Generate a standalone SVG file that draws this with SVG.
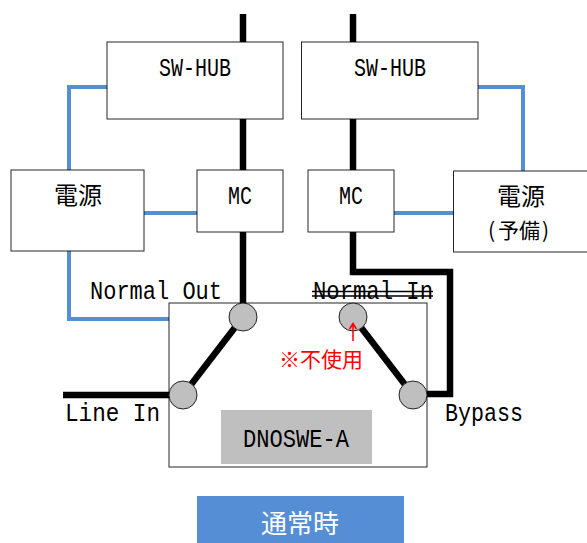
<svg xmlns="http://www.w3.org/2000/svg" width="587" height="543" viewBox="0 0 587 543">
<style>
.box{fill:#fff;stroke:#000;stroke-width:1;stroke-opacity:.85}
.bk{fill:none;stroke:#000;stroke-width:6.500}
.bl{fill:none;stroke:#558ed5;stroke-width:4}
.port{fill:#bfbfbf;stroke:#222;stroke-width:1}
text{font-family:"Liberation Mono","Noto Sans CJK JP",monospace;font-size:26px;fill:#000}
.cjk{font-family:"Noto Sans CJK JP",sans-serif;font-size:24px}
</style>
<rect width="587" height="543" fill="#fff"/>
<g id="connectors">
<path class="bk" d="M243 14V303"/>
<path class="bk" d="M353 14V272H450V394H420"/>
<path class="bk" d="M63 395H175"/>
<path class="bl" d="M107 87H69V170"/>
<path class="bl" d="M69 251V319H170"/>
<path class="bl" d="M144 213H197"/>
<path class="bl" d="M478 87H523V171"/>
<path class="bl" d="M394 213H454"/>
</g>
<g id="hub-left"><rect class="box" x="107" y="42" width="176" height="77"/><text x="159" y="76" textLength="72" lengthAdjust="spacingAndGlyphs">SW-HUB</text></g>
<g id="hub-right"><rect class="box" x="301.500" y="42" width="176.500" height="77"/><text x="354" y="76" textLength="72" lengthAdjust="spacingAndGlyphs">SW-HUB</text></g>
<g id="power-left"><rect class="box" x="11" y="170" width="133" height="81"/><text class="cjk" x="54" y="204">電源</text></g>
<g id="mc-left"><rect class="box" x="197" y="170" width="86" height="62"/><text x="228" y="204" textLength="24" lengthAdjust="spacingAndGlyphs">MC</text></g>
<g id="mc-right"><rect class="box" x="308" y="170" width="86" height="62"/><text x="339" y="204" textLength="24" lengthAdjust="spacingAndGlyphs">MC</text></g>
<g id="power-right"><rect class="box" x="453.500" y="171" width="140" height="81"/><text class="cjk" x="497" y="205">電源</text><text class="cjk" x="488" y="238" style="font-size:21px">(<tspan x="498">予備</tspan><tspan x="542">)</tspan></text></g>
<g id="switch">
<rect class="box" x="169" y="303" width="258" height="164"/>
<rect x="221" y="410" width="151" height="54" fill="#bfbfbf"/>
<text x="243" y="447" textLength="106" lengthAdjust="spacingAndGlyphs">DNOSWE-A</text>
<path class="bk" d="M243 317L183 395"/>
<path class="bk" d="M353 317L413 395"/>
<circle class="port" cx="243" cy="317" r="14"/>
<circle class="port" cx="183" cy="395" r="14"/>
<circle class="port" cx="353" cy="317" r="14"/>
<circle class="port" cx="413" cy="395" r="14"/>
</g>
<g id="labels">
<text x="90" y="299" textLength="132" lengthAdjust="spacingAndGlyphs">Normal Out</text>
<text x="313" y="299" textLength="120" lengthAdjust="spacingAndGlyphs">Normal In</text>
<path d="M312 291.500H433M312 296H433" stroke="#000" stroke-width="1.500" fill="none"/>
<text x="65" y="421" textLength="95" lengthAdjust="spacingAndGlyphs">Line In</text>
<text x="445" y="421" textLength="78" lengthAdjust="spacingAndGlyphs">Bypass</text>
<path d="M353 341V324M349.500 329L353 323.500L356.500 329" stroke="#f00" stroke-width="1.500" fill="none"/>
<text class="cjk" x="279" y="367" style="fill:#f00;font-size:21px">※不使用</text>
</g>
<g id="status"><rect x="197" y="496" width="207" height="47" fill="#558ed5"/><text class="cjk" x="261" y="533" style="fill:#fff;font-size:26px">通常時</text></g>
</svg>
